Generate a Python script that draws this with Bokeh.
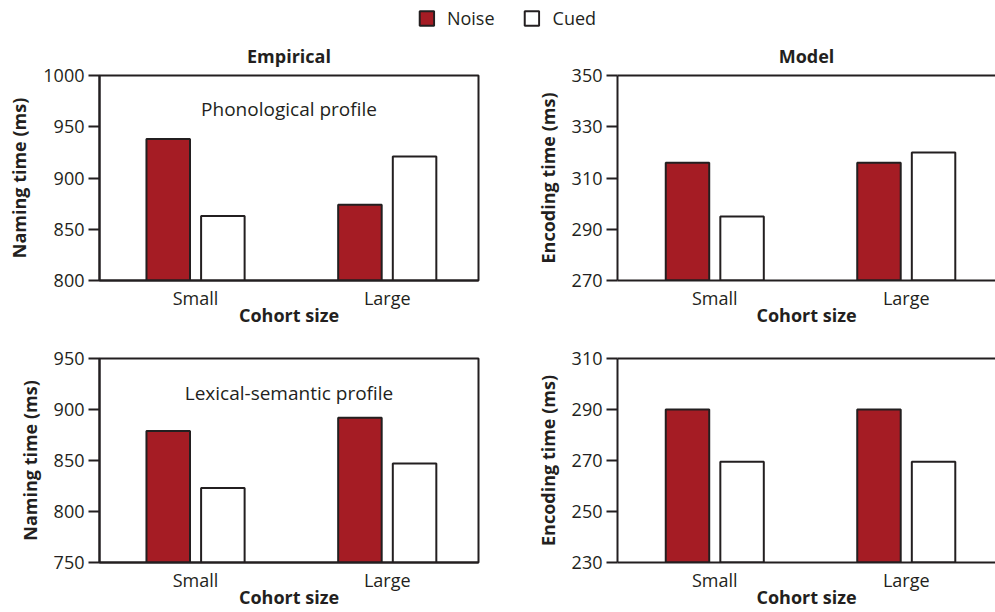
from bokeh.plotting import figure
from bokeh.layouts import column, row
from bokeh.models import (Range1d, FixedTicker, Legend, LegendItem, Label,
                          LinearAxis, ColumnDataSource)
from bokeh.transform import dodge
from bokeh.embed import file_html
from bokeh.resources import INLINE

# ---------------- data ----------------
categories = ["Small", "Large"]
cat_pos = [1, 2]
conditions = ["Noise", "Cued"]

emp_phon_noise = [938, 874]
emp_phon_cued = [863, 921]
mod_phon_noise = [316, 316]
mod_phon_cued = [295, 320]

emp_lex_noise = [879, 892]
emp_lex_cued = [823, 847]
mod_lex_noise = [290, 290]
mod_lex_cued = [269.5, 269.5]

emp_phon_ticks = [800, 850, 900, 950, 1000]
mod_phon_ticks = [270, 290, 310, 330, 350]
emp_lex_ticks = [750, 800, 850, 900, 950]
mod_lex_ticks = [230, 250, 270, 290, 310]

# ---------------- style ----------------
FONT = "Open Sans"
INK = "#231f20"
RED = "#a51c24"
COLORS = [RED, "#ffffff"]
BAR_W = 0.227
OFFSET = 0.1425


def panel(title, ylabel, yticks, noise, cued, note, note_frac, left_side,
          height, border_top, border_bottom):
    if left_side:
        width, bl, br = 500, 99, 22
        xr = (0.499, 2.476)
    else:
        width, bl, br = 495, 117, 0
        xr = (0.492, 2.466)
    y0, y1 = yticks[0], yticks[-1]
    p = figure(width=width, height=height, output_backend="svg",
               toolbar_location=None, title=title,
               x_range=Range1d(*xr), y_range=Range1d(y0, y1),
               min_border_left=bl, min_border_right=br,
               min_border_top=border_top, min_border_bottom=border_bottom,
               background_fill_color="white", border_fill_color="white")
    if title is not None:
        p.title.text_font = FONT
        p.title.text_font_size = "18px"
        p.title.text_font_style = "bold"
        p.title.text_color = INK
        p.title.align = "center"
        p.title.standoff = 15
    p.xgrid.visible = False
    p.ygrid.visible = False

    src = ColumnDataSource(dict(x=cat_pos, noise=noise, cued=cued))
    p.vbar(x=dodge("x", -OFFSET, range=p.x_range), top="noise", bottom=y0,
           width=BAR_W, source=src, fill_color=COLORS[0], line_color=INK, line_width=2)
    p.vbar(x=dodge("x", OFFSET, range=p.x_range), top="cued", bottom=y0,
           width=BAR_W, source=src, fill_color=COLORS[1], line_color=INK, line_width=2)

    ya = p.yaxis[0]
    ya.ticker = FixedTicker(ticks=yticks)
    ya.axis_label = ylabel
    ya.axis_label_text_font = FONT
    ya.axis_label_text_font_size = "18px"
    ya.axis_label_text_font_style = "bold"
    ya.axis_label_text_color = INK
    ya.axis_label_standoff = 9
    ya.major_label_text_font = FONT
    ya.major_label_text_font_size = "18px"
    ya.major_label_text_color = INK
    ya.major_label_standoff = 4
    ya.major_tick_out = 11
    ya.major_tick_in = 0
    ya.major_tick_line_width = 2
    ya.major_tick_line_color = INK
    ya.minor_tick_line_color = None
    ya.minor_tick_out = 0
    ya.axis_line_width = 2
    ya.axis_line_color = INK

    xa = p.xaxis[0]
    xa.ticker = FixedTicker(ticks=cat_pos)
    xa.major_label_overrides = {c: l for c, l in zip(cat_pos, categories)}
    xa.axis_label = "Cohort size"
    xa.axis_label_text_font = FONT
    xa.axis_label_text_font_size = "18px"
    xa.axis_label_text_font_style = "bold"
    xa.axis_label_text_color = INK
    xa.axis_label_standoff = -10
    xa.major_label_text_font = FONT
    xa.major_label_text_font_size = "18px"
    xa.major_label_text_color = INK
    xa.major_label_standoff = 5
    xa.major_tick_out = 0
    xa.major_tick_in = 0
    xa.minor_tick_out = 0
    xa.minor_tick_in = 0
    xa.major_tick_line_color = None
    xa.minor_tick_line_color = None
    xa.axis_line_width = 2
    xa.axis_line_color = INK

    if left_side:
        p.outline_line_color = INK
        p.outline_line_width = 2
    else:
        p.outline_line_color = None
        top = LinearAxis(ticker=FixedTicker(ticks=[]), axis_line_color=INK,
                         axis_line_width=2, major_tick_out=0, major_tick_in=0,
                         minor_tick_out=0, minor_tick_in=0, major_label_standoff=0,
                         major_tick_line_color=None, minor_tick_line_color=None)
        p.add_layout(top, "above")

    if note:
        p.add_layout(Label(x=(xr[0] + xr[1]) / 2,
                           y=y1 - note_frac * (y1 - y0),
                           text=note, text_align="center", text_baseline="middle",
                           text_font=FONT, text_font_size="19px", text_color=INK))
    return p


# legend strip (proxy bars carry no drawable data)
nan = float("nan")
leg = figure(width=995, height=34, output_backend="svg", toolbar_location=None,
             x_range=Range1d(0, 1), y_range=Range1d(0, 1),
             min_border_left=18, min_border_right=0, min_border_top=0,
             min_border_bottom=0, outline_line_color=None)
leg.axis.visible = False
leg.xgrid.visible = False
leg.ygrid.visible = False
items = []
for cond, col in zip(conditions, COLORS):
    r = leg.vbar(x=[nan], top=[nan], bottom=[nan], width=0.1, fill_color=col,
                 line_color=INK, line_width=2)
    items.append(LegendItem(label=cond, renderers=[r]))
legend = Legend(items=items, orientation="horizontal", location="top_center",
                glyph_width=18, glyph_height=18, label_text_font=FONT,
                label_text_font_size="18px", label_text_color=INK,
                spacing=28, label_standoff=12, padding=6, margin=6,
                border_line_color=None, background_fill_alpha=0)
leg.add_layout(legend, "center")

tl = panel("Empirical", "Naming time (ms)", emp_phon_ticks, emp_phon_noise, emp_phon_cued,
           "Phonological profile", 0.165, True, 296, 40, 50)
tr = panel("Model", "Encoding time (ms)", mod_phon_ticks, mod_phon_noise, mod_phon_cued,
           None, 0, False, 296, 40, 50)
bl = panel(None, "Naming time (ms)", emp_lex_ticks, emp_lex_noise, emp_lex_cued,
           "Lexical-semantic profile", 0.17, True, 282, 28, 50)
br = panel(None, "Encoding time (ms)", mod_lex_ticks, mod_lex_noise, mod_lex_cued,
           None, 0, False, 282, 28, 50)

layout = column(leg, row(tl, tr), row(bl, br))
open("out.html", "w").write(file_html(layout, INLINE))
